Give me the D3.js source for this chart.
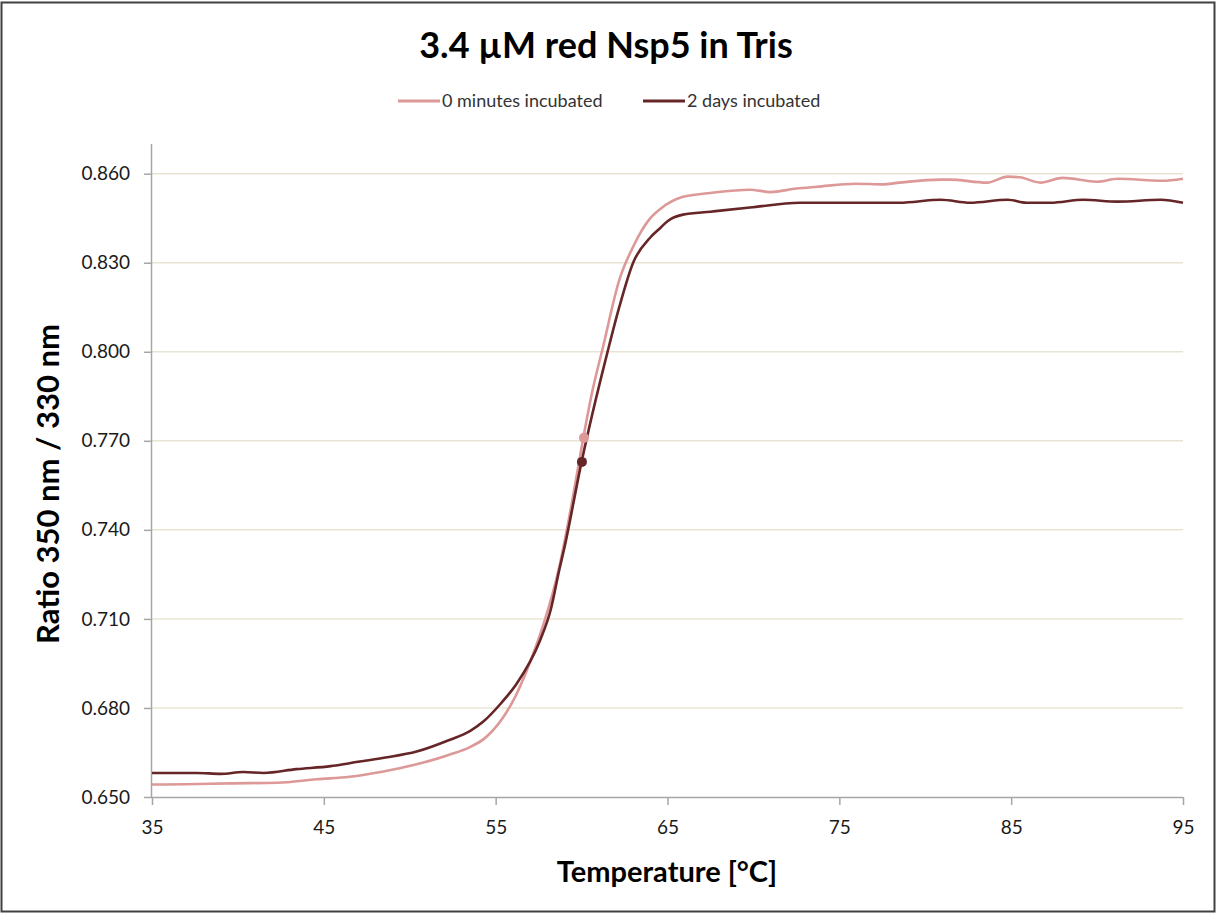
<!DOCTYPE html>
<html>
<head>
<meta charset="utf-8">
<script src="https://cdn.jsdelivr.net/npm/d3@7"></script>
<style>
  body { margin: 0; background: #fff; }
  svg { display: block; }
</style>
</head>
<body>
<svg id="chart" width="1217" height="915"></svg>
<script>
// series
var TEMP_0MIN = [35, 37, 39.5, 42.3, 44.6, 46.5, 48.4, 50.4, 52.3, 53.5, 54.3, 55.4, 56.2, 57.2, 57.8, 58.7, 59.4, 60.1, 60.6, 61.25, 62.2, 63.0, 64.0, 64.6, 65.9, 67.5, 69.8, 71.0, 72.5, 73.7, 76.0, 77.5, 78.5, 80.9, 81.4, 83.6, 84.8, 85.5, 86.7, 88.0, 90.0, 91.2, 93.8, 95];
var RATIO_0MIN = [0.6542, 0.6543, 0.6546, 0.6548, 0.6560, 0.6568, 0.6585, 0.6610, 0.6642, 0.6668, 0.6695, 0.6765, 0.6845, 0.6985, 0.7085, 0.7275, 0.7480, 0.7710, 0.7860, 0.8017, 0.8243, 0.8354, 0.8450, 0.8482, 0.8522, 0.8535, 0.8546, 0.8538, 0.8550, 0.8556, 0.8566, 0.8564, 0.8570, 0.8580, 0.8580, 0.8570, 0.8590, 0.8588, 0.8570, 0.8586, 0.8573, 0.8583, 0.8576, 0.8583];

var TEMP_2DAYS = [35, 37.6, 39, 40.3, 41.5, 43.4, 45.4, 46.5, 48.5, 50.4, 52.3, 53.5, 54.3, 55.3, 56.2, 57.6, 58.2, 58.7, 59.0, 60.0, 61.5, 62.2, 63.0, 64.0, 64.6, 65.0, 65.9, 67.5, 69.8, 72.7, 75.6, 78.5, 80.9, 82.6, 84.8, 85.9, 87.3, 89.2, 91.2, 93.7, 95];
var RATIO_2DAYS = [0.6581, 0.6581, 0.6578, 0.6584, 0.6581, 0.6594, 0.6604, 0.6614, 0.6632, 0.6653, 0.6692, 0.6722, 0.6755, 0.6815, 0.6880, 0.7030, 0.7130, 0.7265, 0.7340, 0.7629, 0.7997, 0.8152, 0.8300, 0.8385, 0.8418, 0.8440, 0.8462, 0.8472, 0.8486, 0.8502, 0.8502, 0.8502, 0.8512, 0.8502, 0.8512, 0.8502, 0.8502, 0.8512, 0.8506, 0.8512, 0.8502];

var SERIES_NAMES = ['0 minutes incubated', '2 days incubated'];
var SERIES_COLORS = ['#dd9898', '#662526'];
var TM_TEMP = [60.14, 60.02];   // melting point markers
var TM_RATIO = [0.771, 0.7629];

var X_TICKS = [35, 45, 55, 65, 75, 85, 95];
var Y_TICKS = [0.650, 0.680, 0.710, 0.740, 0.770, 0.800, 0.830, 0.860];

var FONT = 'Lato, "Open Sans", sans-serif';
var PLOT = {'left': 152, 'right': 1183, 'top': 144, 'bottom': 797};

var svg = d3.select('#chart');

// outer frame
svg.append('rect')
  .attr('x', 1.5).attr('y', 2.5)
  .attr('width', 1213).attr('height', 909)
  .attr('fill', 'none')
  .attr('stroke', '#404040')
  .attr('stroke-width', 2);

var x = d3.scaleLinear().domain([35, 95]).range([PLOT.left, PLOT.right]);
var y = d3.scaleLinear().domain([0.65, 0.87]).range([PLOT.bottom, PLOT.top]);

// gridlines
svg.append('g').selectAll('line')
  .data(Y_TICKS.slice(1))
  .enter().append('line')
  .attr('x1', PLOT.left).attr('x2', PLOT.right)
  .attr('y1', function(d) { return y(d); })
  .attr('y2', function(d) { return y(d); })
  .attr('stroke', '#e8e4d4')
  .attr('stroke-width', 1.5);

// axes
var xAxis = svg.append('g')
  .attr('transform', 'translate(0,' + PLOT.bottom + ')')
  .call(d3.axisBottom(x).tickValues(X_TICKS).tickSize(8).tickPadding(16).tickFormat(d3.format('d')));
var yAxis = svg.append('g')
  .attr('transform', 'translate(' + PLOT.left + ',0)')
  .call(d3.axisLeft(y).tickValues(Y_TICKS).tickSize(8).tickPadding(14).tickFormat(d3.format('.3f')));

[xAxis, yAxis].forEach(function(ax) {
  ax.select('.domain').attr('stroke', '#a6a6a6').attr('stroke-width', 1.5);
  ax.selectAll('.tick line').attr('stroke', '#a6a6a6').attr('stroke-width', 1.5);
  ax.selectAll('.tick text')
    .attr('fill', '#1a1a1a')
    .style('font-family', FONT)
    .style('font-size', '19px');
});
// d3 draws the domain with outer ticks; redraw it as a plain line
xAxis.select('.domain').attr('d', 'M' + PLOT.left + ',0.5H' + PLOT.right);
yAxis.select('.domain').attr('d', 'M-0.5,' + PLOT.top + 'V' + PLOT.bottom);

// lines
var line = d3.line()
  .x(function(d) { return x(d[0]); })
  .y(function(d) { return y(d[1]); })
  .curve(d3.curveMonotoneX);

var seriesData = [d3.zip(TEMP_0MIN, RATIO_0MIN), d3.zip(TEMP_2DAYS, RATIO_2DAYS)];
seriesData.forEach(function(pts, i) {
  svg.append('path')
    .datum(pts)
    .attr('d', line)
    .attr('fill', 'none')
    .attr('stroke', SERIES_COLORS[i])
    .attr('stroke-width', 2.6)
    .attr('stroke-linejoin', 'round');
});

// Tm markers
svg.append('g').selectAll('circle')
  .data(d3.range(TM_TEMP.length))
  .enter().append('circle')
  .attr('cx', function(i) { return x(TM_TEMP[i]); })
  .attr('cy', function(i) { return y(TM_RATIO[i]); })
  .attr('r', 5)
  .attr('fill', function(i) { return SERIES_COLORS[i]; });

// title
svg.append('text')
  .attr('x', 606).attr('y', 58)
  .attr('text-anchor', 'middle')
  .style('font-family', FONT)
  .style('font-weight', 'bold')
  .style('font-size', '36px')
  .attr('fill', '#000')
  .text('3.4 \u00b5M red Nsp5 in Tris');

// legend
var legendX = [398, 643];
var legend = svg.append('g');
SERIES_NAMES.forEach(function(name, i) {
  legend.append('line')
    .attr('x1', legendX[i]).attr('x2', legendX[i] + 42)
    .attr('y1', 101).attr('y2', 101)
    .attr('stroke', SERIES_COLORS[i])
    .attr('stroke-width', 3);
  legend.append('text')
    .attr('x', legendX[i] + 44).attr('y', 107)
    .style('font-family', FONT)
    .style('font-size', '18px')
    .attr('fill', '#333')
    .text(name);
});

// axis titles
svg.append('text')
  .attr('x', 667).attr('y', 882)
  .attr('text-anchor', 'middle')
  .style('font-family', FONT)
  .style('font-weight', 'bold')
  .style('font-size', '29px')
  .attr('fill', '#000')
  .text('Temperature [\u00b0C]');

svg.append('text')
  .attr('transform', 'translate(59,484) rotate(-90)')
  .attr('text-anchor', 'middle')
  .style('font-family', FONT)
  .style('font-weight', 'bold')
  .style('font-size', '31px')
  .attr('fill', '#000')
  .text('Ratio 350 nm / 330 nm');
</script>
</body>
</html>
